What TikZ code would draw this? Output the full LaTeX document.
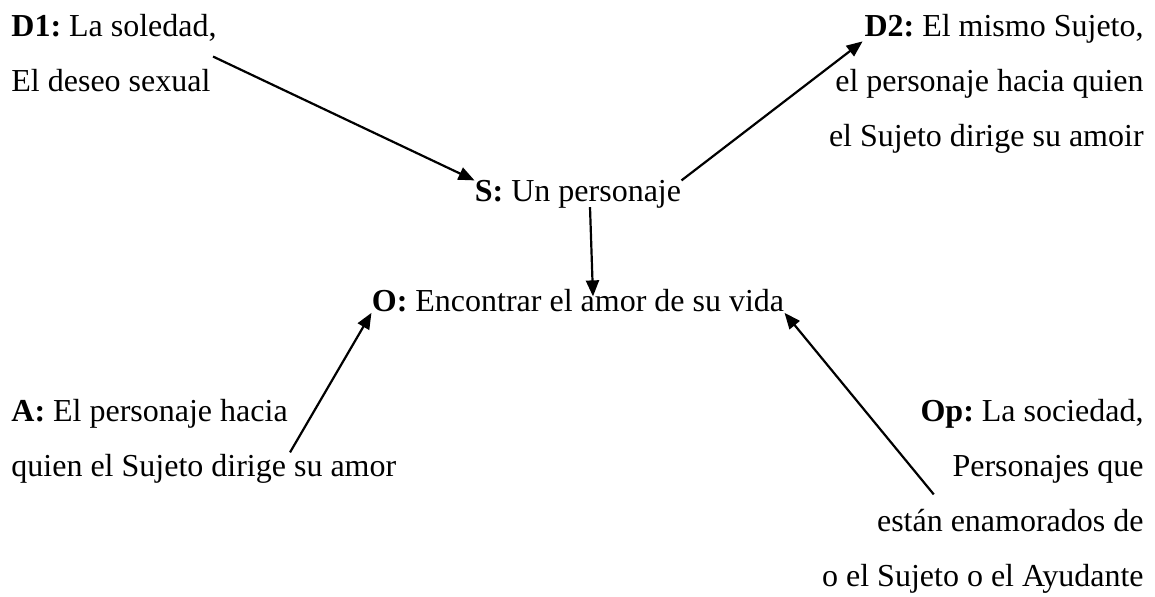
\documentclass[tikz,border=0pt]{standalone}
\usepackage{fontspec}
\setmainfont{Liberation Serif}
\usetikzlibrary{arrows.meta}
\frenchspacing
\tikzset{
    actant-text/.style = {inner sep=0pt, font=\fontsize{16}{27.5}\selectfont},
    actant-left/.style = {actant-text, align=left, anchor=base west},
    actant-right/.style = {actant-text, align=right, anchor=base east},
    actant-center/.style = {actant-text, anchor=base},
    link-arrow/.style = {-{Triangle[length=8pt, width=6.5pt]}, line width=1.1pt},
}

\begin{document}
\begin{tikzpicture}[x=0.5pt, y=-0.5pt]
\useasboundingbox (0,0) rectangle (1155,597);
% multi-line nodes sit on the baseline of their last line
\node [actant-left] (d1) at (11,92) {\textbf{D1:} La soledad,\\ El deseo sexual};
\node [actant-right] (d2) at (1144,147) {\textbf{D2:} El mismo Sujeto,\\ el personaje hacia quien\\ el Sujeto dirige su amoir};
\node [actant-center] (s) at (578,202) {\textbf{S:} Un personaje};
\node [actant-center] (o) at (578,312) {\textbf{O:} Encontrar el amor de su vida};
\node [actant-left] (a) at (11,477) {\textbf{A:} El personaje hacia\\ quien el Sujeto dirige su amor};
\node [actant-right] (op) at (1144,587) {\textbf{Op:} La sociedad,\\ Personajes que\\ están enamorados de\\ o el Sujeto o el Ayudante};

\draw [link-arrow] ([shift={(-4,3)}]d1.east) -- (s.north west);
\draw [link-arrow] (s.north east) -- ([shift={(34,27)}]d2.north west);
\draw [link-arrow] ([shift={(12,-2)}]s.south) -- ([shift={(15,7)}]o.north);
\draw [link-arrow] ([shift={(279,53)}]a.north west) -- (o.south west);
\draw [link-arrow] ([shift={(112,95)}]op.north west) -- (o.south east);
\end{tikzpicture}
\end{document}
